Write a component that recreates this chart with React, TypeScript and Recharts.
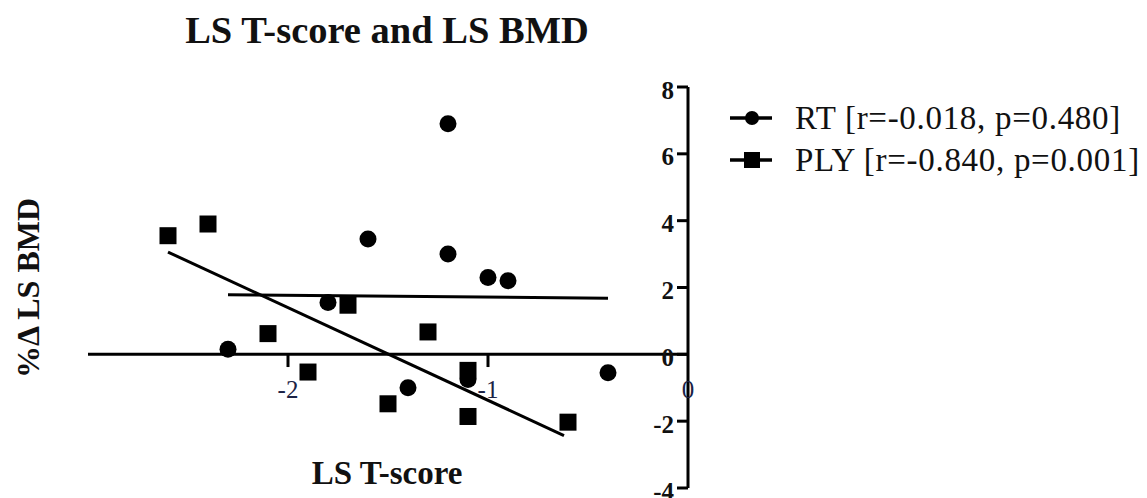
import React from 'react';
import { ComposedChart, Scatter, Line, XAxis, YAxis, ReferenceLine, ReferenceDot, Legend } from 'recharts';

// RT group (circles)
const rtX = [-2.3, -1.8, -1.6, -1.4, -1.2, -1.2, -1.1, -1.0, -0.9, -0.4];
const rtY = [0.15, 1.55, 3.45, -1.0, 6.9, 3.0, -0.75, 2.3, 2.2, -0.55];

// PLY group (squares)
const plyX = [-2.6, -2.4, -2.1, -1.9, -1.7, -1.5, -1.3, -1.1, -1.1, -0.6];
const plyY = [3.55, 3.9, 0.62, -0.53, 1.47, -1.48, 0.67, -0.48, -1.86, -2.03];

// regression line end points
const rtFitX = [-2.3, -0.4];
const rtFitY = [1.78, 1.68];
const plyFitX = [-2.6, -0.62];
const plyFitY = [3.06, -2.43];

const xTicks = [-2, -1, 0];
const yTicks = [-4, -2, 0, 2, 4, 6, 8];

const seriesNames = ['RT [r=-0.018, p=0.480]', 'PLY [r=-0.840, p=0.001]'];

const toPoints = (xs: number[], ys: number[]) => xs.map((x, i) => ({ x, y: ys[i] }));

const rtData = toPoints(rtX, rtY);
const plyData = toPoints(plyX, plyY);
const rtFit = toPoints(rtFitX, rtFitY);
const plyFit = toPoints(plyFitX, plyFitY);

const serif = '"Liberation Serif", "Times New Roman", serif';

const CircleShape = (props: any) => <circle cx={props.cx} cy={props.cy} r={8.5} fill="#000" />;
const SquareShape = (props: any) => (
  <rect x={props.cx - 8.5} y={props.cy - 8.5} width={17} height={17} fill="#000" />
);

const YTick = (props: any) => {
  const { x, y, payload } = props;
  return (
    <g>
      <line x1={x - 11} x2={x} y1={y} y2={y} stroke="#000" strokeWidth={3} />
      <text
        x={x - 14}
        y={y + 3}
        textAnchor="end"
        dominantBaseline="central"
        fontFamily="Liberation Serif"
        fontWeight="bold"
        fontSize={25}
        fill="#111"
      >
        {payload.value}
      </text>
    </g>
  );
};

const XTickLabel = (props: any) => {
  const { viewBox, value } = props;
  const cx = viewBox.x + viewBox.width / 2;
  const cy = viewBox.y + viewBox.height / 2;
  return (
    <text
      x={cx}
      y={cy}
      textAnchor="middle"
      dominantBaseline="central"
      fontFamily="Liberation Serif"
      fontSize={25}
      fill="#1b2346"
    >
      {value}
    </text>
  );
};

const LegendContent = () => (
  <div style={{ fontFamily: serif, fontSize: 33, letterSpacing: 0.7, color: '#111' }}>
    {seriesNames.map((name, i) => (
      <div key={name} style={{ height: 42, display: 'flex', alignItems: 'center' }}>
        <svg width={68} height={42} style={{ flex: 'none' }}>
          <line x1={3} x2={45} y1={21} y2={21} stroke="#000" strokeWidth={3.5} />
          {i === 0 ? (
            <circle cx={25} cy={21} r={7} fill="#000" />
          ) : (
            <rect x={17} y={13} width={16} height={16} fill="#000" />
          )}
        </svg>
        <span style={{ whiteSpace: 'nowrap' }}>{name}</span>
      </div>
    ))}
  </div>
);

export default function App() {
  return (
    <div style={{ position: 'absolute', left: 0, top: 0, width: 1147, height: 498, background: '#fff' }}>
      <div
        style={{
          position: 'absolute',
          left: 387,
          top: 11,
          transform: 'translateX(-50%)',
          fontFamily: serif,
          fontWeight: 'bold',
          fontSize: 38.5,
          lineHeight: 1,
          whiteSpace: 'nowrap',
          color: '#111',
        }}
      >
        LS T-score and LS BMD
      </div>
      <div
        style={{
          position: 'absolute',
          left: 28,
          top: 288,
          transform: 'translate(-50%, -50%) rotate(-90deg)',
          fontFamily: serif,
          fontWeight: 'bold',
          fontSize: 32,
          lineHeight: 1,
          whiteSpace: 'nowrap',
          color: '#111',
        }}
      >
        %Δ LS BMD
      </div>
      <div
        style={{
          position: 'absolute',
          left: 387,
          top: 457,
          transform: 'translateX(-50%)',
          fontFamily: serif,
          fontWeight: 'bold',
          fontSize: 33,
          lineHeight: 1,
          whiteSpace: 'nowrap',
          color: '#111',
        }}
      >
        LS T-score
      </div>
      <ComposedChart
        width={1147}
        height={498}
        margin={{ top: 87, right: 458, bottom: 10, left: 88 }}
        style={{ position: 'absolute', left: 0, top: 0 }}
      >
        <XAxis type="number" dataKey="x" domain={[-3, 0]} hide allowDataOverflow />
        <YAxis
          type="number"
          dataKey="y"
          orientation="right"
          domain={[-4, 8]}
          ticks={yTicks}
          width={1}
          tickSize={0}
          tickMargin={0}
          tickLine={false}
          axisLine={{ stroke: '#000', strokeWidth: 3 }}
          tick={<YTick />}
          interval={0}
        />
        <ReferenceLine y={0} stroke="#000" strokeWidth={3} />
        {xTicks
          .filter((t) => t !== 0)
          .map((t) => (
            <ReferenceLine
              key={'tl' + t}
              segment={[
                { x: t, y: 0 },
                { x: t, y: -0.38 },
              ]}
              stroke="#000"
              strokeWidth={3}
            />
          ))}
        {xTicks.map((t) => (
          <ReferenceDot
            key={'tx' + t}
            x={t}
            y={-1.05}
            r={0.5}
            fill="none"
            stroke="none"
            label={<XTickLabel value={String(t)} />}
          />
        ))}
        <Line
          data={rtFit}
          dataKey="y"
          type="linear"
          stroke="#000"
          strokeWidth={3}
          dot={false}
          activeDot={false}
          isAnimationActive={false}
          legendType="none"
        />
        <Line
          data={plyFit}
          dataKey="y"
          type="linear"
          stroke="#000"
          strokeWidth={3}
          dot={false}
          activeDot={false}
          isAnimationActive={false}
          legendType="none"
        />
        <Scatter data={rtData} dataKey="y" shape={<CircleShape />} isAnimationActive={false} />
        <Scatter data={plyData} dataKey="y" shape={<SquareShape />} isAnimationActive={false} />
        <Legend
          layout="vertical"
          align="center"
          verticalAlign="middle"
          content={<LegendContent />}
          wrapperStyle={{ position: 'absolute', left: 727, top: 97, width: 420, height: 84 }}
        />
      </ComposedChart>
    </div>
  );
}
